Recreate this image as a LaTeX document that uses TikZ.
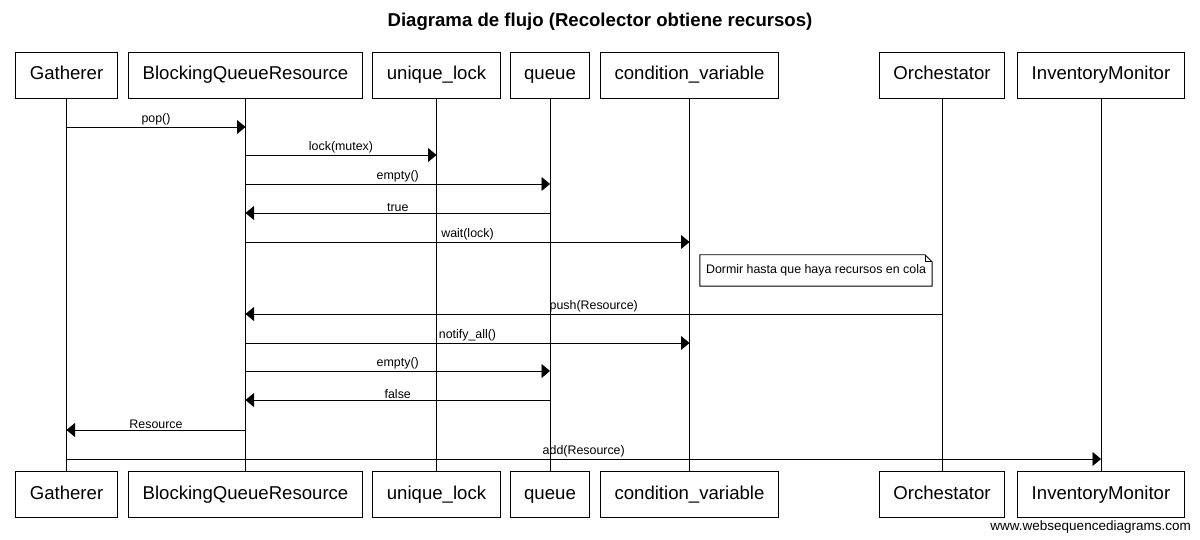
\documentclass[tikz,border=0pt]{standalone}
\usepackage{fontspec}
\setmainfont{Liberation Sans}
\usetikzlibrary{arrows.meta}
\newcommand{\actorfont}{\fontsize{18.6}{22}\selectfont}
\newcommand{\msgfont}{\fontsize{12.4}{14}\selectfont}
\newcommand{\wmfont}{\fontsize{13.5}{15}\selectfont}
\tikzstyle{actor} = [%
					draw, rectangle,
					minimum height = 46pt,
					text height = 13.5pt, text depth = 4pt,
					inner xsep = 14pt,
					line width = 0.9pt,
					font = \actorfont]
\tikzstyle{lifeline} = [%
					line width = 0.9pt]
\tikzstyle{msg} = [%
					line width = 0.9pt,
					-{Triangle[length=8.5pt, width=14pt]}]
\tikzstyle{msglabel} = [%
					above, inner sep = 1pt,
					font = \msgfont]

\begin{document}
\begin{tikzpicture}[x=1pt, y=-1pt]
		\useasboundingbox (0,0) rectangle (1200,540);
		
		% Title
		\node[font=\actorfont\bfseries] (title) at (600,22) {Diagrama de flujo (Recolector obtiene recursos)};
		
		% Coordinates
		\coordinate (m1) at (0,127);
		\coordinate (m2) at (0,155);
		\coordinate (m3) at (0,184);
		\coordinate (m4) at (0,213);
		\coordinate (m5) at (0,242);
		\coordinate (m6) at (0,314);
		\coordinate (m7) at (0,343);
		\coordinate (m8) at (0,371);
		\coordinate (m9) at (0,400);
		\coordinate (m10) at (0,430);
		\coordinate (m11) at (0,459);
		
		% Nodes
		%% Participants, top
		\node[actor] (gt) at (66.5,75) {Gatherer};
		\node[actor] (bt) at (245.5,75) {BlockingQueueResource};
		\node[actor] (ut) at (436.5,75) {unique\_lock};
		\node[actor] (qt) at (550,75) {queue};
		\node[actor] (ct) at (689.5,75) {condition\_variable};
		\node[actor] (ot) at (942,75) {Orchestator};
		\node[actor] (it) at (1101,75) {InventoryMonitor};
		%% Participants, bottom
		\node[actor] (gb) at (66.5,494.5) {Gatherer};
		\node[actor] (bb) at (245.5,494.5) {BlockingQueueResource};
		\node[actor] (ub) at (436.5,494.5) {unique\_lock};
		\node[actor] (qb) at (550,494.5) {queue};
		\node[actor] (cb) at (689.5,494.5) {condition\_variable};
		\node[actor] (ob) at (942,494.5) {Orchestator};
		\node[actor] (ib) at (1101,494.5) {InventoryMonitor};
		
		% Lifelines
		\draw[lifeline] (gt.south) -- (gb.north);
		\draw[lifeline] (bt.south) -- (bb.north);
		\draw[lifeline] (ut.south) -- (ub.north);
		\draw[lifeline] (qt.south) -- (qb.north);
		\draw[lifeline] (ct.south) -- (cb.north);
		\draw[lifeline] (ot.south) -- (ob.north);
		\draw[lifeline] (it.south) -- (ib.north);
		
		% Messages
		\draw[msg] (gt |- m1) -- node[msglabel] {pop()} (bt |- m1);
		\draw[msg] (bt |- m2) -- node[msglabel] {lock(mutex)} (ut |- m2);
		\draw[msg] (bt |- m3) -- node[msglabel] {empty()} (qt |- m3);
		\draw[msg] (qt |- m4) -- node[msglabel] {true} (bt |- m4);
		\draw[msg] (bt |- m5) -- node[msglabel] {wait(lock)} (ct |- m5);
		\draw[msg] (ot |- m6) -- node[msglabel] {push(Resource)} (bt |- m6);
		\draw[msg] (bt |- m7) -- node[msglabel] {notify\_all()} (ct |- m7);
		\draw[msg] (bt |- m8) -- node[msglabel] {empty()} (qt |- m8);
		\draw[msg] (qt |- m9) -- node[msglabel] {false} (bt |- m9);
		\draw[msg] (bt |- m10) -- node[msglabel] {Resource} (gt |- m10);
		\draw[msg] (gt |- m11) -- node[msglabel] {add(Resource)} (it |- m11);
		
		% Note
		\node[font=\msgfont, inner xsep=6pt, minimum height=31pt, fill=white] (nt) at (816,270.5) {Dormir hasta que haya recursos en cola};
		\draw[line width=0.9pt] (nt.north west) -- ([xshift=-7pt]nt.north east) -- ([yshift=-7pt]nt.north east) -- (nt.south east) -- (nt.south west) -- cycle;
		\draw[line width=0.6pt] ([xshift=-7pt]nt.north east) -- ([xshift=-7pt,yshift=-7pt]nt.north east) -- ([yshift=-7pt]nt.north east);
		
		% Watermark
		\node[anchor=east, font=\wmfont, inner sep=0pt] (wm) at (1191,527) {www.websequencediagrams.com};
	\end{tikzpicture}
\end{document}
